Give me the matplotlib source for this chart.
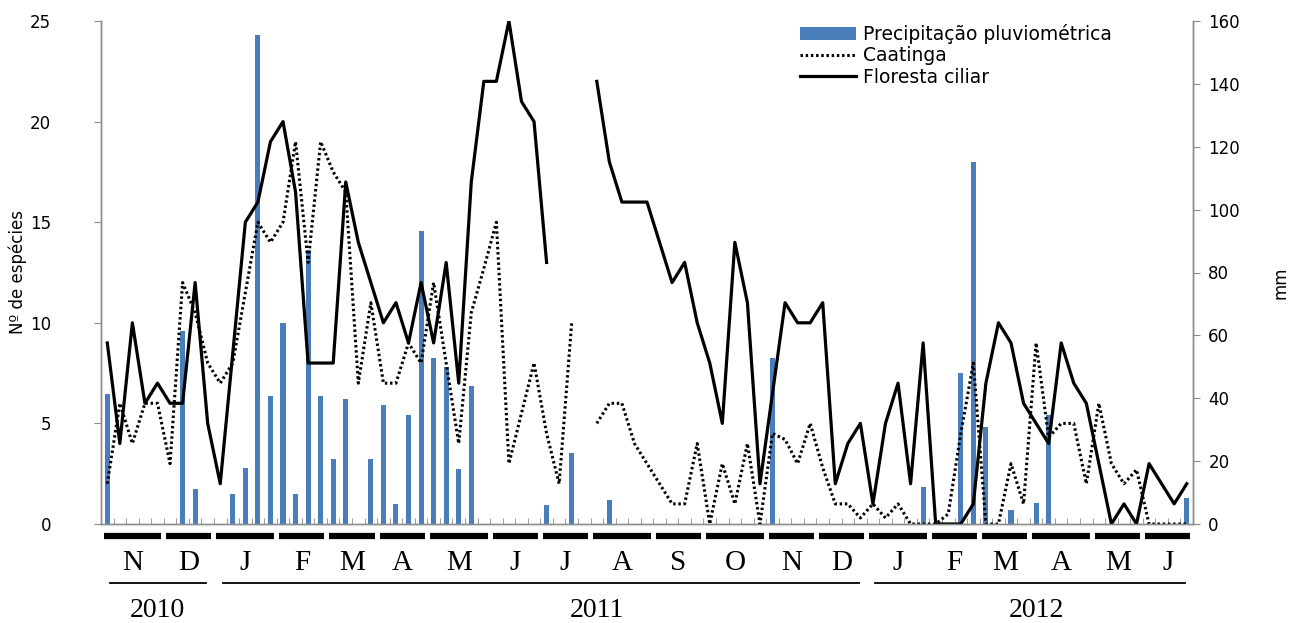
import numpy as np
import matplotlib
matplotlib.use("Agg")
import matplotlib.pyplot as plt
from matplotlib.patches import Patch
from matplotlib.lines import Line2D

nan = np.nan

# weekly samples, Nov 2010 - Jun 2012
floresta = [9, 4, 10, 6, 7, 6, 6, 12, 5, 2, 8.5, 15, 16, 19, 20, 16.5, 8, 8, 8, 17,
            14, 12, 10, 11, 9, 12, 9, 13, 7, 17, 22, 22, 25, 21, 20, 13, nan, nan, nan, 22,
            18, 16, 16, 16, 14, 12, 13, 10, 8, 5, 14, 11, 2, 6.5, 11, 10, 10, 11, 2, 4,
            5, 1, 5, 7, 2, 9, 0, 0, 0, 1, 7, 10, 9, 6, 5, 4, 9, 7, 6, 3,
            0, 1, 0, 3, 2, 1, 2]
caatinga = [2, 6, 4, 6, 6, 3, 12, 10.5, 8, 7, 8, 11.5, 15, 14, 15, 19, 13, 19, 17.5, 16.5,
            7, 11, 7, 7, 9, 8, 12, 8, 4, 10.5, 12.7, 15, 3, 5.5, 8, 4.5, 2, 10, nan, 5,
            6, 6, 4, 3, 2, 1, 1, 4, 0, 3, 1, 4, 0, 4.5, 4.2, 3, 5, 2.8, 1, 1,
            0.3, 1, 0.3, 1, 0, 0, 0, 0.5, 4.5, 8, 0, 0, 3, 1, 9, 4.3, 5, 5, 2, 6,
            3, 2, 2.7, 0, 0, 0, 0]
precip = [41.5, 0, 0, 0, 0, 0, 61.5, 11, 0, 0, 9.5, 17.7, 155.5, 40.7, 64, 9.4, 87, 40.7, 20.6, 39.8,
          0, 20.6, 37.9, 6.3, 34.7, 93.3, 52.7, 50, 17.4, 43.9, 0, 0, 0, 0, 0, 6, 0, 22.5, 0, 0,
          7.6, 0, 0, 0, 0, 0, 0, 0, 0, 0, 0, 0, 0, 52.7, 0, 0, 0, 0, 0, 0,
          0, 0, 0, 0, 0, 11.9, 0, 0, 47.9, 115.3, 31, 0, 4.5, 0, 6.6, 34.7, 0, 0, 0, 0,
          0, 0, 0, 0, 0, 0, 8.2]

months = ["N", "D", "J", "F", "M", "A", "M", "J", "J", "A",
          "S", "O", "N", "D", "J", "F", "M", "A", "M", "J"]
weeks_per_month = [5, 4, 5, 4, 4, 4, 5, 4, 4, 5, 4, 5, 4, 4, 5, 4, 4, 5, 4, 4]
years = ["2010", "2011", "2012"]
months_per_year = [2, 12, 6]

BLUE = "#4a7ebb"
GREY = "#8c8c8c"


def main() -> None:
    x = np.arange(len(floresta))

    fig = plt.figure(figsize=(12.98, 6.23), dpi=100)
    ax = fig.add_axes([101 / 1298, 1 - 524 / 623, 1092 / 1298, 503 / 623])
    ax2 = ax.twinx()

    ax2.bar(x, precip, width=0.4, color=BLUE)
    ax.plot(x, caatinga, color="black", lw=2.2, ls=(0, (0.8, 0.9)))
    ax.plot(x, floresta, color="black", lw=2.3)
    # lines above the bars
    ax.set_zorder(ax2.get_zorder() + 1)
    ax.patch.set_visible(False)

    ax.set_xlim(-0.45, 86.5)
    ax.set_ylim(0, 25)
    ax2.set_ylim(0, 160)

    for a in (ax, ax2):
        a.spines["top"].set_visible(False)
        for s in ("left", "right", "bottom"):
            a.spines[s].set_color(GREY)
            a.spines[s].set_linewidth(1)

    ax.set_xticks([])
    ax.set_xticks(np.arange(-0.5, 87, 1), minor=True)
    ax.tick_params(axis="x", which="minor", direction="in", length=4, color=GREY)

    ax.set_yticks(range(0, 26, 5))
    ax.tick_params(axis="y", direction="out", length=5, color=GREY, pad=31, labelsize=12)
    ax2.set_yticks(range(0, 161, 20))
    ax2.tick_params(axis="y", direction="out", length=5, color=GREY, pad=6, labelsize=12)

    ax.set_ylabel("Nº de espécies", fontsize=12)
    ax.yaxis.set_label_coords(-0.068, 0.5)
    ax2.set_ylabel("mm", fontsize=12)
    ax2.yaxis.set_label_coords(1.072, 0.48)

    handles = [
        Patch(facecolor=BLUE, edgecolor="none"),
        Line2D([], [], color="black", lw=2.2, ls=(0, (0.8, 0.9))),
        Line2D([], [], color="black", lw=2.3),
    ]
    labels = ["Precipitação pluviométrica", "Caatinga", "Floresta ciliar"]
    ax.legend(handles, labels, loc="upper left", bbox_to_anchor=(0.640, 0.994),
              frameon=False, fontsize=13.5, handlelength=3.0, handletextpad=0.35,
              labelspacing=0.13, borderpad=0, borderaxespad=0)

    # month bars and letters under the axis
    tr = ax.get_xaxis_transform()
    start = 0
    month_start = []
    for name, n in zip(months, weeks_per_month):
        end = start + n - 1
        ax.plot([start - 0.3, end + 0.3], [-0.024, -0.024], transform=tr, color="black",
                lw=4.5, solid_capstyle="butt", clip_on=False)
        ax.text((start + end) / 2, -0.077, name, transform=tr, ha="center", va="center",
                family="Liberation Serif", fontsize=21)
        month_start.append(start)
        start = end + 1
    month_start.append(start)

    # year spans
    year_label_x = [4, 39, 74]
    m = 0
    for name, nm, lx in zip(years, months_per_year, year_label_x):
        s = month_start[m]
        e = month_start[m + nm] - 1
        ax.plot([s + 0.2, e - 0.1], [-0.118, -0.118], transform=tr, color="black",
                lw=1.3, clip_on=False)
        ax.text(lx, -0.172, name, transform=tr, ha="center", va="center",
                family="Liberation Serif", fontsize=20)
        m += nm

    fig.savefig("out.png", dpi=100)
    plt.close(fig)


if __name__ == "__main__":
    main()
